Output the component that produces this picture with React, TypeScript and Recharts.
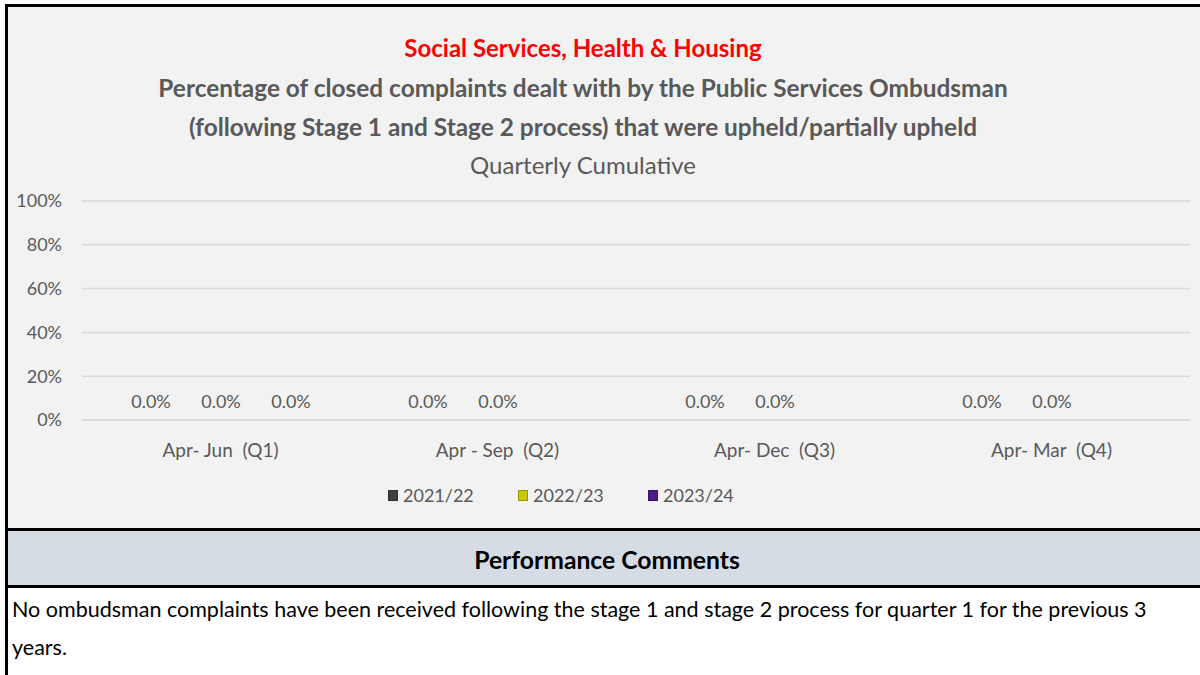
import React from 'react';
import { BarChart, Bar, XAxis, YAxis, CartesianGrid, Legend, LabelList } from 'recharts';

const quarters = ['Apr- Jun  (Q1)', 'Apr - Sep  (Q2)', 'Apr- Dec  (Q3)', 'Apr- Mar  (Q4)'];
const y2122 = [0, 0, 0, 0];
const y2223 = [0, 0, 0, 0];
const y2324 = [0, null, null, null];
const yTicks = [0, 20, 40, 60, 80, 100];

const seriesList = [
  { key: 'y2122', name: '2021/22', color: '#3f3f3f' },
  { key: 'y2223', name: '2022/23', color: '#c8c800' },
  { key: 'y2324', name: '2023/24', color: '#4b1c8a' },
];

const data = quarters.map((q, i) => ({
  quarter: q,
  y2122: y2122[i],
  y2223: y2223[i],
  y2324: y2324[i],
}));

const FONT = 'Lato, "Open Sans", sans-serif';
const GREY = '#595959';

const QuarterTick = (props: any) => {
  const { x, y, payload } = props;
  return (
    <text x={x} y={y} dy={15} textAnchor="middle" fill={GREY} fontSize={19} fontFamily={FONT} style={{ whiteSpace: 'pre' }}>
      {payload.value}
    </text>
  );
};

const formatPct = (v: any) => (v === null || v === undefined ? '' : `${Number(v).toFixed(1)}%`);

const LegendContent = () => (
  <div style={{ display: 'flex', fontFamily: FONT, fontSize: 18, color: GREY }}>
    {seriesList.map((s) => (
      <div key={s.key} style={{ width: 130, display: 'flex', alignItems: 'center' }}>
        <span
          style={{
            display: 'inline-block',
            width: 10,
            height: 11,
            marginRight: 5,
            backgroundColor: s.color,
            border: '1px solid rgba(0,0,0,0.25)',
            boxSizing: 'border-box',
          }}
        />
        <span>{s.name}</span>
      </div>
    ))}
  </div>
);

const titleStyle = (top: number, extra: React.CSSProperties): React.CSSProperties => ({
  position: 'absolute',
  left: 0,
  width: 1166,
  top,
  textAlign: 'center',
  fontFamily: FONT,
  whiteSpace: 'nowrap',
  lineHeight: '30px',
  ...extra,
});

export default function App() {
  return (
    <div style={{ position: 'absolute', left: 0, top: 0, width: 1200, height: 675, background: '#ffffff', overflow: 'hidden' }}>
      {/* chart panel */}
      <div
        style={{
          position: 'absolute',
          left: 5,
          top: 4,
          width: 1200,
          height: 524,
          background: '#f2f2f2',
          borderLeft: '3px solid #000',
          borderTop: '3px solid #000',
        }}
      />
      <div style={titleStyle(33, { color: '#ff0000', fontWeight: 700, fontSize: 24 })}>
        Social Services, Health &amp; Housing
      </div>
      <div style={titleStyle(73, { color: GREY, fontWeight: 700, fontSize: 24.4 })}>
        Percentage of closed complaints dealt with by the Public Services Ombudsman
      </div>
      <div style={titleStyle(112, { color: GREY, fontWeight: 700, fontSize: 24.4 })}>
        (following Stage 1 and Stage 2 process) that were upheld/partially upheld
      </div>
      <div style={titleStyle(150, { color: GREY, fontWeight: 400, fontSize: 24 })}>Quarterly Cumulative</div>

      <div style={{ position: 'absolute', left: 8, top: 8 }}>
        <BarChart
          width={1192}
          height={520}
          data={data}
          margin={{ top: 193, right: 10, bottom: 0, left: 0 }}
          barSize={60}
          barGap={10}
        >
          <CartesianGrid vertical={false} stroke="#d9d9d9" strokeWidth={1.5} />
          <XAxis
            dataKey="quarter"
            axisLine={{ stroke: '#d9d9d9', strokeWidth: 1.5 }}
            tickLine={false}
            tick={<QuarterTick />}
            tickMargin={16}
            height={86}
            interval={0}
          />
          <YAxis
            domain={[0, 100]}
            ticks={yTicks}
            tickFormatter={(v: number) => `${v}%`}
            axisLine={false}
            tickLine={false}
            tickSize={0}
            tickMargin={20}
            width={74}
            tick={{ fill: GREY, fontSize: 18, fontFamily: FONT }}
          />
          <Legend
            content={<LegendContent />}
            wrapperStyle={{ position: 'absolute', left: 380, top: 476, width: 420 }}
          />
          {seriesList.map((s) => (
            // zero-height bars get dropped in recharts 3, so give them a hair of height to keep the labels
            <Bar key={s.key} dataKey={s.key} name={s.name} fill={s.color} isAnimationActive={false} minPointSize={0.01}>
              <LabelList
                dataKey={s.key}
                position="top"
                offset={12}
                formatter={formatPct}
                fill={GREY}
                fontSize={18}
                fontFamily={FONT}
              />
            </Bar>
          ))}
        </BarChart>
      </div>

      {/* comments section */}
      <div style={{ position: 'absolute', left: 5, top: 528, width: 1200, height: 3, background: '#000' }} />
      <div
        style={{
          position: 'absolute',
          left: 5,
          top: 531,
          width: 1200,
          height: 54,
          background: '#d6dce4',
          borderLeft: '3px solid #000',
          boxSizing: 'border-box',
        }}
      />
      <div
        style={{
          position: 'absolute',
          left: 8,
          width: 1198,
          top: 531,
          height: 54,
          lineHeight: '58px',
          textAlign: 'center',
          fontFamily: FONT,
          fontWeight: 700,
          fontSize: 24.7,
          color: '#000',
        }}
      >
        Performance Comments
      </div>
      <div style={{ position: 'absolute', left: 5, top: 585, width: 1200, height: 3, background: '#000' }} />
      <div style={{ position: 'absolute', left: 5, top: 588, width: 3, height: 87, background: '#000' }} />
      <div
        style={{
          position: 'absolute',
          left: 12,
          top: 590,
          fontFamily: FONT,
          fontSize: 21.5,
          lineHeight: '38px',
          color: '#000',
          whiteSpace: 'nowrap',
        }}
      >
        No ombudsman complaints have been received following the stage 1 and stage 2 process for quarter 1 for the previous 3
        <br />
        years.
      </div>
    </div>
  );
}
